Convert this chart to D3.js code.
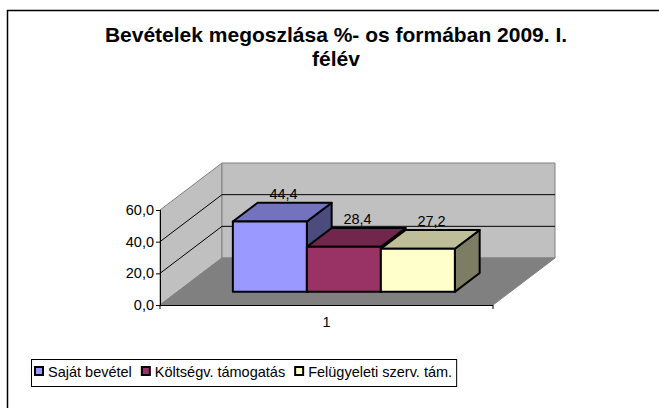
<!DOCTYPE html>
<html lang="en">
<head>
<meta charset="UTF-8">
<title>Bevételek megoszlása</title>
<style>
  body { margin: 0; background: #fff; }
  text { font-family: Arial, "Liberation Sans", sans-serif; }
</style>
<script src="https://d3js.org/d3.v7.min.js"></script>
</head>
<body>
<script>
// data
const categories = ["1"];
const seriesNames = ["Saját bevétel", "Költségv. támogatás", "Felügyeleti szerv. tám."];
const seriesValues = [44.4, 28.4, 27.2];
const seriesColors = ["#9999FF", "#993366", "#FFFFCC"];
const yTicks = [0, 20, 40, 60];
const titleLines = ["Bevételek megoszlása %- os formában 2009. I.", "félév"];

const width = 659, height = 408;

const svg = d3.select("body").append("svg")
  .attr("width", width)
  .attr("height", height);

// chart border (runs off the right / bottom edge like the original)
svg.append("rect")
  .attr("x", 7.5).attr("y", 10.5)
  .attr("width", 700).attr("height", 450)
  .attr("fill", "#fff").attr("stroke", "#000").attr("stroke-width", 1.5);

// title
svg.append("text")
  .attr("x", 336).attr("y", 42)
  .attr("text-anchor", "middle")
  .attr("font-size", 21).attr("font-weight", "bold")
  .selectAll("tspan").data(titleLines).join("tspan")
  .attr("x", 336).attr("dy", (d, i) => i ? 24 : 0)
  .text(d => d);

// 3d frame: front plane origin + depth offset
const ox = 160, oy = 305, plotW = 333;
const depthX = 62, depthY = 47;

const y = d3.scaleLinear().domain([0, 60]).range([0, 95]);
const xCat = d3.scaleBand().domain(categories).range([0, plotW]);
const xSer = d3.scaleBand().domain(seriesNames).range([0, xCat.bandwidth()])
  .paddingInner(0).paddingOuter(0.75);
const zBar = [0.28, 0.68]; // bar depth range (0 = front, 1 = back wall)

// project (x along width, value, depth) to screen
function P(x, v, z) {
  return [ox + x + z * depthX, oy - y(v) - z * depthY];
}
const pts = a => a.map(p => p.join(",")).join(" ");

const fmt = d3.formatLocale({ decimal: ",", thousands: " ", grouping: [3], currency: ["", ""] }).format(".1f");
const fs = 14.5;

// left wall
svg.append("polygon")
  .attr("points", pts([P(0, 0, 0), P(0, 60, 0), P(0, 60, 1), P(0, 0, 1)]))
  .attr("fill", "#C0C0C0").attr("stroke", "#808080");
// back wall
svg.append("polygon")
  .attr("points", pts([P(0, 0, 1), P(0, 60, 1), P(plotW, 60, 1), P(plotW, 0, 1)]))
  .attr("fill", "#C0C0C0").attr("stroke", "#808080");
// floor
svg.append("polygon")
  .attr("points", pts([P(0, 0, 0), P(plotW, 0, 0), P(plotW, 0, 1), P(0, 0, 1)]))
  .attr("fill", "#808080").attr("stroke", "#808080");

// gridlines on walls
const grid = yTicks.filter(t => t > 0 && t < 60);
svg.append("g").selectAll("polyline").data(grid).join("polyline")
  .attr("points", d => pts([P(0, d, 0), P(0, d, 1), P(plotW, d, 1)]))
  .attr("fill", "none").attr("stroke", "#000").attr("stroke-width", 1);

// value axis
const axisG = svg.append("g");
axisG.append("line")
  .attr("x1", ox + 0.5).attr("x2", ox + 0.5)
  .attr("y1", oy - y(0)).attr("y2", oy - y(60))
  .attr("stroke", "#000");
axisG.selectAll(".tick").data(yTicks).join("line")
  .attr("x1", ox - 4).attr("x2", ox)
  .attr("y1", d => oy - y(d) + 0.5).attr("y2", d => oy - y(d) + 0.5)
  .attr("stroke", "#000");
axisG.selectAll("text").data(yTicks).join("text")
  .attr("x", ox - 6).attr("y", d => oy - y(d) + 5)
  .attr("text-anchor", "end").attr("font-size", fs)
  .text(d => fmt(d));

// category axis (front floor edge)
axisG.append("line")
  .attr("x1", ox).attr("x2", ox + plotW)
  .attr("y1", oy + 0.5).attr("y2", oy + 0.5)
  .attr("stroke", "#000");
axisG.selectAll(".ctick").data([0, plotW]).join("line")
  .attr("x1", d => ox + d).attr("x2", d => ox + d)
  .attr("y1", oy).attr("y2", oy + 4)
  .attr("stroke", "#000");
axisG.selectAll(".clabel").data(categories).join("text")
  .attr("x", d => ox + xCat(d) + xCat.bandwidth() / 2)
  .attr("y", oy + 22)
  .attr("text-anchor", "middle").attr("font-size", fs)
  .text(d => d);

// bars (left to right so each covers its neighbour's side face)
const shade = (c, k) => d3.rgb(c).darker(k).formatHex();
const bars = seriesNames.map((s, i) => ({ name: s, value: seriesValues[i], color: seriesColors[i] }));
const x0 = xCat(categories[0]);

const barG = svg.append("g").selectAll("g").data(bars).join("g");
barG.each(function(d) {
  const g = d3.select(this);
  const xl = x0 + xSer(d.name), xr = xl + xSer.bandwidth();
  const [zf, zb] = zBar;
  g.append("polygon") // right side
    .attr("points", pts([P(xr, 0, zf), P(xr, d.value, zf), P(xr, d.value, zb), P(xr, 0, zb)]))
    .attr("fill", shade(d.color, 2)).attr("stroke", "#000").attr("stroke-width", 2)
    .attr("stroke-linejoin", "round");
  g.append("polygon") // top
    .attr("points", pts([P(xl, d.value, zf), P(xr, d.value, zf), P(xr, d.value, zb), P(xl, d.value, zb)]))
    .attr("fill", shade(d.color, 0.83)).attr("stroke", "#000").attr("stroke-width", 2)
    .attr("stroke-linejoin", "round");
  g.append("polygon") // front
    .attr("points", pts([P(xl, 0, zf), P(xl, d.value, zf), P(xr, d.value, zf), P(xr, 0, zf)]))
    .attr("fill", d.color).attr("stroke", "#000").attr("stroke-width", 2)
    .attr("stroke-linejoin", "round");
});

// data labels above the top faces
svg.append("g").selectAll("text").data(bars).join("text")
  .attr("x", d => P(x0 + xSer(d.name) + xSer.bandwidth() / 2, d.value, 0.5)[0])
  .attr("y", d => P(0, d.value, 0.48)[1] - 13)
  .attr("text-anchor", "middle").attr("font-size", fs)
  .text(d => fmt(d.value));

// legend
const legend = svg.append("g");
let lx = 35;
const items = legend.selectAll("g").data(bars).join("g");
items.each(function(d) {
  const g = d3.select(this);
  g.append("rect")
    .attr("x", lx).attr("y", 367).attr("width", 8).attr("height", 8)
    .attr("fill", d.color).attr("stroke", "#000").attr("stroke-width", 2);
  const t = g.append("text")
    .attr("x", lx + 13).attr("y", 377)
    .attr("font-size", fs)
    .text(d.name);
  lx += 13 + t.node().getComputedTextLength() + 10;
});
legend.insert("rect", ":first-child")
  .attr("x", 31.5).attr("y", 359.5)
  .attr("width", lx - 31 - 6).attr("height", 27)
  .attr("fill", "#fff").attr("stroke", "#000").attr("stroke-width", 1);
</script>
</body>
</html>
